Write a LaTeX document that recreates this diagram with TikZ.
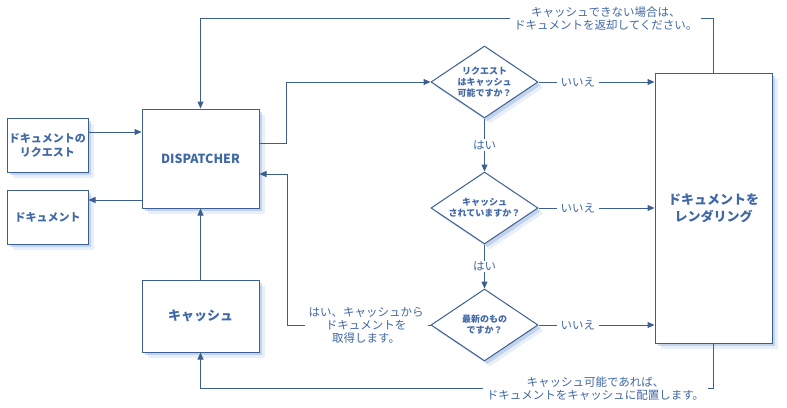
\documentclass[tikz,border=0pt]{standalone}
\usepackage{fontspec}
\setmainfont{Noto Sans CJK JP}
\usetikzlibrary{shapes.geometric,arrows.meta,shadows,positioning}
\definecolor{lineblue}{HTML}{3D5F8F}
\definecolor{textblue}{HTML}{4168A6}
\definecolor{shadeblue}{HTML}{6A93CF}
\tikzset{
  shade/.style={drop shadow={fill=shadeblue, opacity=.15, shadow xshift=5.5pt, shadow yshift=-5.5pt},
                drop shadow={fill=shadeblue, opacity=.3, shadow xshift=3pt, shadow yshift=-3pt}},
  box/.style={draw=lineblue, line width=1pt, fill=white, shade, text=textblue,
              align=center, inner sep=0pt, font=\fontsize{11}{14}\selectfont\bfseries},
  decision/.style={draw=lineblue, line width=1pt, fill=white, shade, diamond, aspect=1.5,
                   inner sep=0pt, minimum width=107pt, minimum height=72pt, text=textblue,
                   align=center, font=\fontsize{9}{11}\selectfont\bfseries},
  tag/.style={fill=white, text=textblue, align=center, inner xsep=4pt, inner ysep=1pt,
              font=\fontsize{11.5}{13}\selectfont}
}
\begin{document}
\begin{tikzpicture}[x=1pt, y=-1pt, line width=1pt, draw=lineblue,
    >={Triangle[length=7pt,width=6pt]}]
  \useasboundingbox (0,0) rectangle (787,407);
  % boxes
  \node[box, minimum width=81pt, minimum height=54pt] (Request) at (47.5,145) {ドキュメントの\\リクエスト};
  \node[box, minimum width=81pt, minimum height=54pt] (Document) at (47.5,217) {ドキュメント};
  \node[box, minimum width=117pt, minimum height=99pt, font=\fontsize{12.5}{15}\selectfont\bfseries] (Dispatcher) at (200.5,158.5) {DISPATCHER};
  \node[box, minimum width=117pt, minimum height=72pt, font=\fontsize{13}{16}\selectfont\bfseries] (Cache) at (200.5,316) {キャッシュ};
  \node[box, minimum width=117pt, minimum height=270pt, font=\fontsize{13}{17}\selectfont\bfseries] (Render) at (713.5,208) {ドキュメントを\\レンダリング};
  % decisions
  \node[decision] (Cacheable) at (484.5,82) {リクエスト\\はキャッシュ\\可能ですか？};
  \node[decision] (Cached) at (484.5,208) {キャッシュ\\されていますか？};
  \node[decision] (Fresh) at (484.5,325) {最新のもの\\ですか？};
  % helper points
  \coordinate (ReqOut) at ([yshift=13pt]Request.east);
  \coordinate (DocIn) at ([yshift=17pt]Document.east);
  \coordinate (DspOut) at ([yshift=15.5pt]Dispatcher.east);
  \coordinate (DspIn) at ([yshift=-15.5pt]Dispatcher.east);
  \coordinate (TopRight) at ([yshift=54pt]Render.north);
  \coordinate (BotRight) at ([yshift=-45pt]Render.south);
  % connectors
  \draw[->, lineblue] (ReqOut) -- (ReqOut -| Dispatcher.west);
  \draw[->, lineblue] (DocIn -| Dispatcher.west) -- (DocIn);
  \draw[->, lineblue] (DspOut) -- ++(27,0) |- (Cacheable.west);
  \draw[->, lineblue] (Cache.north) -- (Dispatcher.south);
  \draw[->, lineblue] (Cacheable.south) -- node[tag] {はい} (Cached.north);
  \draw[->, lineblue] (Cached.south) -- node[tag] {はい} (Fresh.north);
  \draw[->, lineblue] (Cacheable.east) -- node[tag, pos=.34] {いいえ} (Cacheable.east -| Render.west);
  \draw[->, lineblue] (Cached.east) -- node[tag, pos=.34] {いいえ} (Cached.east -| Render.west);
  \draw[->, lineblue] (Fresh.east) -- node[tag, pos=.34] {いいえ} (Fresh.east -| Render.west);
  \draw[->, lineblue] (Fresh.west) -- ++(-143,0) node[tag, pos=.45] {はい、キャッシュから\\ドキュメントを\\取得します。} |- (DspIn);
  \draw[->, lineblue] (Render.north) -- (TopRight)
    -- node[tag, pos=.21] {キャッシュできない場合は、\\ドキュメントを返却してください。} (TopRight -| Dispatcher.north)
    -- (Dispatcher.north);
  \draw[->, lineblue] (Render.south) -- (BotRight)
    -- node[tag, pos=.23] {キャッシュ可能であれば、\\ドキュメントをキャッシュに配置します。} (BotRight -| Cache.south)
    -- (Cache.south);
\end{tikzpicture}
\end{document}
